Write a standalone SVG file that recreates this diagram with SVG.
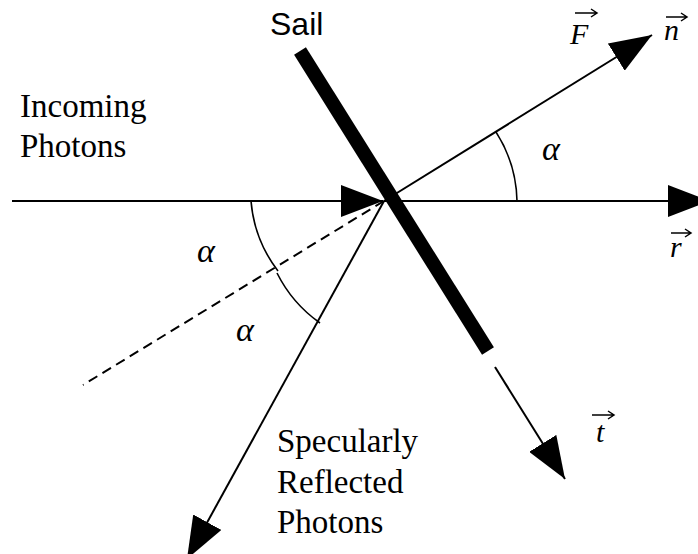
<svg xmlns="http://www.w3.org/2000/svg" width="698" height="554" viewBox="0 0 698 554">
<defs>
<marker id="ah" viewBox="0 0 42 32" markerWidth="42" markerHeight="32" refX="42" refY="16" orient="auto" markerUnits="userSpaceOnUse">
<path d="M0,0 L42,16 L0,32 Z" fill="#000"/>
</marker>
</defs>
<style>
.ln{stroke:#000;stroke-width:2;fill:none}
.arr{marker-end:url(#ah)}
.dash{stroke-dasharray:10 6}
.arc{stroke:#000;stroke-width:1.6;fill:none}
.lbl{font-size:33px;fill:#000}
.sym{font-style:italic;font-size:30px;fill:#000}
.alpha{font-style:italic;font-size:34px;fill:#000}
.vec{stroke:#000;stroke-width:1.5;fill:none}
</style>
<rect width="698" height="554" fill="#fff"/>
<g id="connectors">
<path class="ln arr" d="M12,201 L383,201"/>
<path class="ln arr" d="M384,201 L710,201"/>
<path class="ln arr" d="M384,201 L652,35"/>
<path class="ln arr" d="M384,201 L187,559"/>
<path class="ln dash" d="M384,201 L83,385"/>
<path class="ln arr" d="M495,367 L565,479"/>
</g>
<g id="sail">
<line x1="300" y1="51" x2="488" y2="351" stroke="#000" stroke-width="14"/>
<text x="270" y="35" font-family="Liberation Sans, Arial, sans-serif" font-size="32">Sail</text>
</g>
<g id="angles" font-family="Liberation Serif, DejaVu Serif, serif">
<path class="arc" d="M496,132 A133,133 0 0 1 517,201"/>
<path class="arc" d="M251,201 A133,133 0 0 0 278,271"/>
<path class="arc" d="M277,273 A135,135 0 0 0 320,323"/>
<text class="alpha" x="542" y="160">α</text>
<text class="alpha" x="197" y="262">α</text>
<text class="alpha" x="236" y="341">α</text>
</g>
<g id="incoming" font-family="Liberation Serif, DejaVu Serif, serif">
<text class="lbl" x="20" y="117">Incoming</text>
<text class="lbl" x="20" y="157">Photons</text>
</g>
<g id="reflected" font-family="Liberation Serif, DejaVu Serif, serif">
<text class="lbl" x="277" y="452">Specularly</text>
<text class="lbl" x="277" y="493">Reflected</text>
<text class="lbl" x="277" y="533">Photons</text>
</g>
<g id="vecF" font-family="Liberation Serif, DejaVu Serif, serif">
<text class="sym" x="570" y="44">F</text>
<path class="vec" d="M575,13 L597,13 M591,9 L597,13 L591,17"/>
</g>
<g id="vecN" font-family="Liberation Serif, DejaVu Serif, serif">
<text class="sym" x="664" y="40">n</text>
<path class="vec" d="M666,17 L687,17 M681,13 L687,17 L681,21"/>
</g>
<g id="vecR" font-family="Liberation Serif, DejaVu Serif, serif">
<text class="sym" x="670" y="257">r</text>
<path class="vec" d="M671,233 L691,233 M685,229 L691,233 L685,237"/>
</g>
<g id="vecT" font-family="Liberation Serif, DejaVu Serif, serif">
<text class="sym" x="596" y="442">t</text>
<path class="vec" d="M592,415 L614,415 M608,411 L614,415 L608,419"/>
</g>
</svg>
